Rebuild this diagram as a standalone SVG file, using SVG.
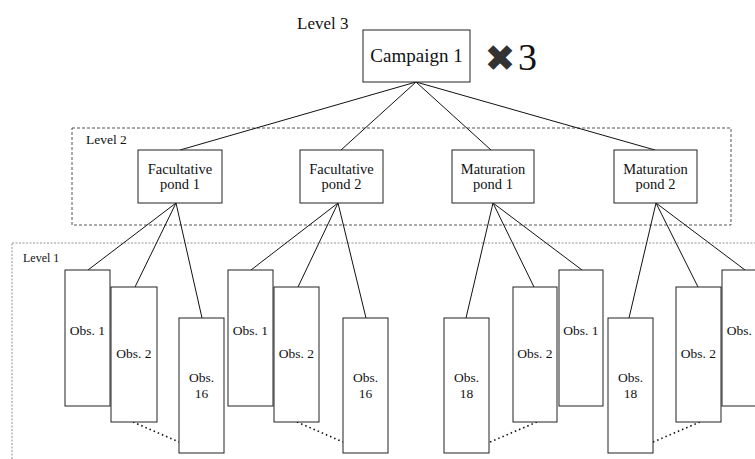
<svg xmlns="http://www.w3.org/2000/svg" width="755" height="459" viewBox="0 0 755 459">
<style>
  .box { fill: #fff; stroke: #222; stroke-width: 1; }
  .t { font-family: "Liberation Serif", "DejaVu Serif", serif; fill: #111; text-anchor: middle; }
  .lvl { font-family: "Liberation Serif", "DejaVu Serif", serif; fill: #111; }
  .ln { stroke: #111; stroke-width: 1; fill: none; }
  .dot { stroke: #111; stroke-width: 1.6; stroke-dasharray: 1.5 3; fill: none; }
</style>
<rect width="755" height="459" fill="#fff"/>
<g id="level2-frame">
  <rect x="72" y="128" width="659" height="97" fill="none" stroke="#555" stroke-width="1" stroke-dasharray="3 2"/>
  <text class="lvl" x="86" y="144" font-size="13.5">Level 2</text>
</g>
<g id="level1-frame">
  <rect x="12" y="243" width="760" height="230" fill="none" stroke="#777" stroke-width="0.8" stroke-dasharray="2 1.5"/>
  <text class="lvl" x="23" y="262" font-size="12">Level 1</text>
</g>
<g id="connectors">
  <line class="ln" x1="416" y1="82" x2="180" y2="150"/>
  <line class="ln" x1="416" y1="82" x2="341" y2="150"/>
  <line class="ln" x1="416" y1="82" x2="491" y2="150"/>
  <line class="ln" x1="416" y1="82" x2="655" y2="150"/>
  <line class="ln" x1="176" y1="203" x2="88" y2="270"/>
  <line class="ln" x1="176" y1="203" x2="135" y2="287"/>
  <line class="ln" x1="176" y1="203" x2="202" y2="318"/>
  <line class="ln" x1="338" y1="203" x2="251" y2="270"/>
  <line class="ln" x1="338" y1="203" x2="298" y2="287"/>
  <line class="ln" x1="338" y1="203" x2="366" y2="318"/>
  <line class="ln" x1="493" y1="203" x2="466" y2="318"/>
  <line class="ln" x1="493" y1="203" x2="534" y2="287"/>
  <line class="ln" x1="493" y1="203" x2="582" y2="270"/>
  <line class="ln" x1="656" y1="203" x2="629" y2="318"/>
  <line class="ln" x1="656" y1="203" x2="698" y2="287"/>
  <line class="ln" x1="656" y1="203" x2="745" y2="270"/>
  <line class="dot" x1="133" y1="422" x2="179" y2="442"/>
  <line class="dot" x1="297" y1="422" x2="343" y2="442"/>
  <line class="dot" x1="490" y1="442" x2="537" y2="422"/>
  <line class="dot" x1="653" y1="442" x2="700" y2="422"/>
</g>
<g id="campaign">
  <text class="lvl" x="297" y="29" font-size="17">Level 3</text>
  <rect class="box" x="363" y="30" width="107" height="52"/>
  <text class="t" x="416.5" y="62" font-size="19">Campaign 1</text>
  <text x="500" y="71" font-family="DejaVu Sans, sans-serif" font-size="37" text-anchor="middle" fill="#333">✖</text>
  <text class="lvl" x="518" y="70" font-size="38" fill="#333">3</text>
</g>
<g id="fac1">
  <rect class="box" x="138" y="150" width="84" height="53"/>
  <text class="t" x="180" y="174" font-size="14.5">Facultative</text>
  <text class="t" x="180" y="189" font-size="14.5">pond 1</text>
</g>
<g id="fac2">
  <rect class="box" x="300" y="150" width="83" height="53"/>
  <text class="t" x="341.5" y="174" font-size="14.5">Facultative</text>
  <text class="t" x="341.5" y="189" font-size="14.5">pond 2</text>
</g>
<g id="mat1">
  <rect class="box" x="452" y="150" width="82" height="53"/>
  <text class="t" x="493" y="174" font-size="14.5">Maturation</text>
  <text class="t" x="493" y="189" font-size="14.5">pond 1</text>
</g>
<g id="mat2">
  <rect class="box" x="614" y="150" width="83" height="53"/>
  <text class="t" x="655.5" y="174" font-size="14.5">Maturation</text>
  <text class="t" x="655.5" y="189" font-size="14.5">pond 2</text>
</g>
<g id="g1-obs1"><rect class="box" x="65" y="270" width="45" height="136"/><text class="t" x="87.5" y="335" font-size="13.5">Obs. 1</text></g>
<g id="g1-obs2"><rect class="box" x="111" y="287" width="46" height="135"/><text class="t" x="134" y="358" font-size="13.5">Obs. 2</text></g>
<g id="g1-obs16"><rect class="box" x="179" y="318" width="45" height="135"/><text class="t" x="201.5" y="382" font-size="13.5">Obs.</text><text class="t" x="201.5" y="398" font-size="13.5">16</text></g>
<g id="g2-obs1"><rect class="box" x="228" y="270" width="45" height="136"/><text class="t" x="250.5" y="335" font-size="13.5">Obs. 1</text></g>
<g id="g2-obs2"><rect class="box" x="274" y="287" width="45" height="135"/><text class="t" x="296.5" y="358" font-size="13.5">Obs. 2</text></g>
<g id="g2-obs16"><rect class="box" x="343" y="318" width="45" height="135"/><text class="t" x="365.5" y="382" font-size="13.5">Obs.</text><text class="t" x="365.5" y="398" font-size="13.5">16</text></g>
<g id="g3-obs18"><rect class="box" x="444" y="318" width="45" height="135"/><text class="t" x="466.5" y="382" font-size="13.5">Obs.</text><text class="t" x="466.5" y="398" font-size="13.5">18</text></g>
<g id="g3-obs2"><rect class="box" x="513" y="287" width="44" height="135"/><text class="t" x="535" y="358" font-size="13.5">Obs. 2</text></g>
<g id="g3-obs1"><rect class="box" x="559" y="270" width="44" height="136"/><text class="t" x="581" y="335" font-size="13.5">Obs. 1</text></g>
<g id="g4-obs18"><rect class="box" x="608" y="318" width="45" height="135"/><text class="t" x="630.5" y="382" font-size="13.5">Obs.</text><text class="t" x="630.5" y="398" font-size="13.5">18</text></g>
<g id="g4-obs2"><rect class="box" x="676" y="287" width="45" height="135"/><text class="t" x="698.5" y="358" font-size="13.5">Obs. 2</text></g>
<g id="g4-obs1"><rect class="box" x="722" y="270" width="45" height="136"/><text class="t" x="744.5" y="335" font-size="13.5">Obs. 1</text></g>
</svg>
